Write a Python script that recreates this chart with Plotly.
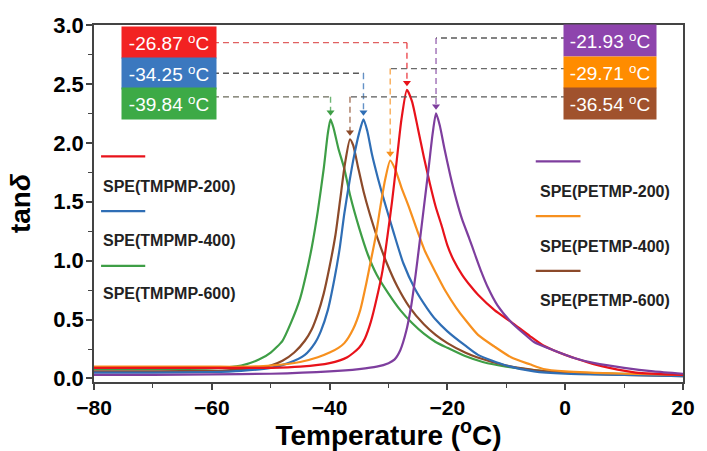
import plotly.graph_objects as go

# ---------------- data ----------------
names = ["SPE(TMPMP-200)", "SPE(TMPMP-400)", "SPE(TMPMP-600)",
         "SPE(PETMP-200)", "SPE(PETMP-400)", "SPE(PETMP-600)"]
peak_temps = [-26.87, -34.25, -39.84, -21.93, -29.71, -36.54]
peak_vals = [2.45, 2.20, 2.20, 2.25, 1.85, 2.03]
peak_labels = ["-26.87 <sup>o</sup>C", "-34.25 <sup>o</sup>C", "-39.84 <sup>o</sup>C",
               "-21.93 <sup>o</sup>C", "-29.71 <sup>o</sup>C", "-36.54 <sup>o</sup>C"]
guide_levels = [2.85, 2.59, 2.39, 2.89, 2.63, 2.39]

red_x = [-80, -70, -60, -50, -45, -40, -37, -35, -34, -33, -32, -31, -30.2, -29.4, -28.6, -27.8,
         -26.87, -26, -25, -24, -23, -22, -21, -20, -19, -17.5, -16, -14.8, -12, -9.2, -6, -3.7,
         0, 1.8, 5, 7.5, 12, 20]
red_y = [0.09, 0.09, 0.09, 0.09, 0.10, 0.13, 0.18, 0.26, 0.34, 0.48, 0.68, 0.92, 1.20, 1.50, 1.85, 2.20,
         2.45, 2.35, 2.12, 1.88, 1.66, 1.46, 1.30, 1.13, 1.01, 0.88, 0.78, 0.71, 0.58, 0.48, 0.36, 0.28,
         0.20, 0.17, 0.12, 0.09, 0.05, 0.03]

blue_x = [-80, -70, -60, -55, -50, -47, -44.2, -42.5, -41.5, -40.3, -39.2, -38.3, -37.5, -36.6, -35.8,
          -35, -34.25, -33.6, -32.8, -31.8, -30.8, -29.2, -27.5, -25.5, -23.5, -22, -20, -17, -14.8,
          -10, -5.3, 0, 10, 20]
blue_y = [0.05, 0.05, 0.055, 0.065, 0.09, 0.13, 0.20, 0.30, 0.40, 0.58, 0.84, 1.10, 1.40, 1.68, 1.90,
          2.08, 2.20, 2.10, 1.90, 1.70, 1.52, 1.25, 0.98, 0.76, 0.60, 0.50, 0.40, 0.28, 0.20,
          0.11, 0.06, 0.04, 0.03, 0.02]

green_x = [-80, -70, -60, -55, -52, -50, -48, -46.5, -45, -44, -43, -42, -41, -40.3, -39.84, -39.3,
           -38.5, -37.5, -36.5, -35, -33.5, -32, -30, -28, -26, -24, -22, -20, -17, -14, -10, -5,
           0, 10, 20]
green_y = [0.08, 0.08, 0.085, 0.11, 0.16, 0.22, 0.32, 0.48, 0.68, 0.88, 1.12, 1.42, 1.78, 2.08, 2.20, 2.12,
           1.95, 1.78, 1.55, 1.28, 1.05, 0.88, 0.72, 0.58, 0.47, 0.38, 0.31, 0.26, 0.19, 0.14, 0.10, 0.07,
           0.05, 0.04, 0.03]

purple_x = [-80, -70, -60, -50, -40, -35, -32, -30, -29, -28, -27, -26.2, -25.4, -24.8, -24, -23.2,
            -22.5, -21.93, -21.3, -20.5, -19.5, -18.5, -17.5, -16.3, -15.3, -14.2, -13.2, -11.5, -9.2,
            -7, -5.3, -2, 1.8, 5, 10, 15, 20]
purple_y = [0.03, 0.03, 0.035, 0.04, 0.06, 0.08, 0.10, 0.13, 0.16, 0.24, 0.40, 0.60, 0.88, 1.12, 1.45, 1.78,
            2.08, 2.25, 2.15, 1.95, 1.72, 1.52, 1.35, 1.19, 1.05, 0.90, 0.78, 0.62, 0.48,
            0.38, 0.31, 0.24, 0.17, 0.13, 0.09, 0.06, 0.04]

orange_x = [-80, -70, -60, -55, -50, -45, -42, -40, -38.5, -37.5, -36, -34.8, -33.8, -33, -32.2, -31.4,
            -30.6, -29.71, -28.9, -27.8, -26.5, -25.3, -23.8, -22, -20.3, -18.5, -17, -14.8, -12, -9.2,
            -6, -3.7, 0, 10, 20]
orange_y = [0.10, 0.10, 0.10, 0.10, 0.11, 0.14, 0.18, 0.22, 0.26, 0.30, 0.42, 0.58, 0.80, 1.00, 1.20, 1.45,
            1.68, 1.85, 1.78, 1.62, 1.45, 1.28, 1.08, 0.90, 0.74, 0.60, 0.50, 0.37, 0.27, 0.18,
            0.12, 0.08, 0.06, 0.04, 0.03]

brown_x = [-80, -70, -60, -55, -50, -48, -46, -44.2, -43, -42, -41, -40, -39, -38.2, -37.4, -36.54,
           -36, -35.2, -34.2, -33.2, -31.8, -30.3, -28.5, -26.5, -24, -22, -20, -17, -15, -10, -5,
           0, 10, 20]
brown_y = [0.06, 0.06, 0.065, 0.075, 0.11, 0.15, 0.22, 0.32, 0.42, 0.55, 0.72, 0.95, 1.22, 1.52, 1.82, 2.03,
           1.98, 1.80, 1.58, 1.40, 1.18, 0.98, 0.78, 0.61, 0.46, 0.37, 0.30, 0.22, 0.18, 0.11, 0.07,
           0.05, 0.03, 0.02]

curves_x = [red_x, blue_x, green_x, purple_x, orange_x, brown_x]
curves_y = [red_y, blue_y, green_y, purple_y, orange_y, brown_y]

x_ticks = [-80, -60, -40, -20, 0, 20]
y_ticks = [0.0, 0.5, 1.0, 1.5, 2.0, 2.5, 3.0]

# ---------------- styles ----------------
line_colors = ["#E8121A", "#2F6EB5", "#3E9E46", "#7E3E9E", "#F7901E", "#8C4A2A"]
box_colors = ["#F22222", "#3B78BF", "#3DAA46", "#8E44AD", "#FF8C00", "#A0522D"]
guide_colors = ["#E06060", "#5A5A5A", "#6A6A5A", "#5A5A5A", "#6A6A6A", "#5A5A5A"]
FONT = "Liberation Sans, Arial, sans-serif"

fig = go.Figure()

draw_order = [2, 5, 1, 4, 0, 3]
for i in draw_order:
    fig.add_trace(go.Scatter(x=curves_x[i], y=curves_y[i], mode="lines",
                             line=dict(color=line_colors[i], width=2.2, shape="spline", smoothing=0.6),
                             name=names[i], showlegend=False, hoverinfo="skip"))

# guide dashed lines from labels to peaks
left_edge, right_edge = -59.8, 0.3
for i in range(6):
    start = left_edge if i < 3 else right_edge
    fig.add_trace(go.Scatter(x=[start, peak_temps[i]], y=[guide_levels[i], guide_levels[i]],
                             mode="lines", line=dict(color=guide_colors[i], width=1.4, dash="6px,4px"),
                             showlegend=False, hoverinfo="skip"))
    fig.add_trace(go.Scatter(x=[peak_temps[i], peak_temps[i]], y=[guide_levels[i], peak_vals[i] + 0.06],
                             mode="lines", line=dict(color=line_colors[i], width=1.4, dash="6px,4px"),
                             opacity=0.75, showlegend=False, hoverinfo="skip"))
    fig.add_trace(go.Scatter(x=[peak_temps[i]], y=[peak_vals[i] + 0.06], mode="markers",
                             marker=dict(symbol="triangle-down", size=7, color=line_colors[i]),
                             showlegend=False, hoverinfo="skip"))

annotations = []
shapes = []
# value boxes
box_y_left = [2.85, 2.585, 2.33]
box_y_right = [2.865, 2.60, 2.337]
for i in range(6):
    if i < 3:
        ax, ay, anchor, w = -75.5, box_y_left[i], "left", 94
    else:
        ax, ay, anchor, w = 15.66, box_y_right[i - 3], "right", 92
    annotations.append(dict(x=ax, y=ay, xref="x", yref="y", xanchor=anchor, yanchor="middle",
                            text=peak_labels[i], showarrow=False, bgcolor=box_colors[i],
                            width=w, height=31, borderpad=0, align="center",
                            font=dict(family=FONT, size=19, color="white")))

# legend entries
leg_line_left = [1.885, 1.42, 0.955]
leg_text_left = [1.63, 1.175, 0.72]
leg_line_right = [1.843, 1.378, 0.913]
leg_text_right = [1.59, 1.124, 0.66]
for k in range(3):
    shapes.append(dict(type="line", xref="x", yref="y", x0=-78.8, x1=-71.3,
                       y0=leg_line_left[k], y1=leg_line_left[k],
                       line=dict(color=line_colors[k], width=2.2)))
    annotations.append(dict(x=-78.8, y=leg_text_left[k], xref="x", yref="y", xanchor="left",
                            yanchor="middle", text=names[k], showarrow=False,
                            font=dict(family=FONT, size=16, color="#222222", weight="bold")))
    shapes.append(dict(type="line", xref="x", yref="y", x0=-5.0, x1=2.6,
                       y0=leg_line_right[k], y1=leg_line_right[k],
                       line=dict(color=line_colors[k + 3], width=2.2)))
    annotations.append(dict(x=-4.7, y=leg_text_right[k], xref="x", yref="y", xanchor="left",
                            yanchor="middle", text=names[k + 3], showarrow=False,
                            font=dict(family=FONT, size=16, color="#222222", weight="bold")))

fig.update_layout(
    width=707, height=451,
    margin=dict(l=94, r=14, t=25, b=67),
    paper_bgcolor="white", plot_bgcolor="white",
    annotations=annotations, shapes=shapes,
    font=dict(family=FONT, color="black"),
)
fig.update_xaxes(range=[-80, 20], tickvals=x_ticks, ticks="outside", ticklen=6, tickwidth=1.5,
                 tickcolor="#444", showline=True, linecolor="#444", linewidth=1.5, mirror=True,
                 showgrid=False, zeroline=False,
                 minor=dict(dtick=10, ticks="outside", ticklen=4, tickcolor="#444", tickwidth=1.2),
                 tickfont=dict(family=FONT, size=21, color="black", weight="bold"),
                 title=dict(text="Temperature (<sup>o</sup>C)", standoff=0,
                            font=dict(family=FONT, size=28, color="black", weight="bold")))
fig.update_yaxes(range=[-0.03, 3.0], tickvals=y_ticks, tickformat=".1f", ticks="outside", ticklen=6,
                 tickwidth=1.5, tickcolor="#444", showline=True, linecolor="#444", linewidth=1.5,
                 mirror=True, showgrid=False, zeroline=False, ticklabelstandoff=-2,
                 minor=dict(dtick=0.25, ticks="outside", ticklen=4, tickcolor="#444", tickwidth=1.2),
                 tickfont=dict(family=FONT, size=22, color="black", weight="bold"),
                 title=dict(text="tan<i>δ</i>", standoff=14,
                            font=dict(family=FONT, size=28, color="black", weight="bold")))

fig.write_html("out.html")
